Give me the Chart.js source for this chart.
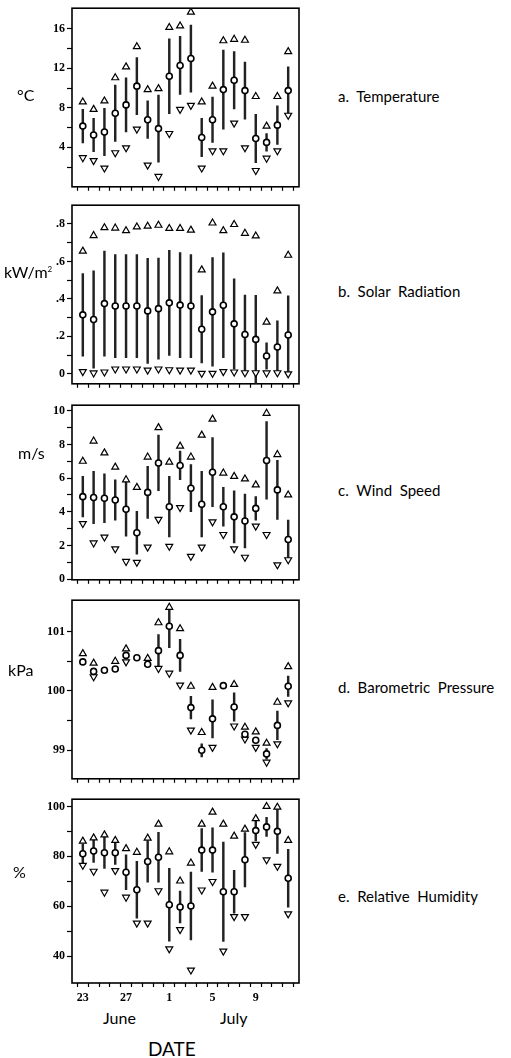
<!DOCTYPE html>
<html>
<head>
<meta charset="utf-8">
<script src="https://cdn.jsdelivr.net/npm/chart.js@4.4.1/dist/chart.umd.min.js"></script>
<style>
  body { margin: 0; background: #fff; width: 511px; height: 1058px; position: relative; overflow: hidden; }
  canvas { position: absolute; left: 0; }
  .lbl { position: absolute; font-family: 'Lato', 'Open Sans', sans-serif; color: #000; white-space: nowrap; line-height: 1; }
  .unit { font-size: 16px; }
  .name { font-size: 15px; left: 338px; }
</style>
</head>
<body>
<canvas id="tempChart" width="320" height="197"></canvas>
<canvas id="solarChart" width="320" height="197"></canvas>
<canvas id="windChart" width="320" height="193"></canvas>
<canvas id="pressChart" width="320" height="197"></canvas>
<canvas id="rhChart" width="320" height="215"></canvas>

<div class="lbl unit" style="left:17px; top:87px;">°C</div>
<div class="lbl unit" style="left:4px; top:264px;">kW/m<sup style="font-size:8px">2</sup></div>
<div class="lbl unit" style="left:18px; top:445px;">m/s</div>
<div class="lbl unit" style="left:8px; top:662px;">kPa</div>
<div class="lbl unit" style="left:13px; top:864px;">%</div>

<div class="lbl name" style="top:89px;">a.&nbsp; Temperature</div>
<div class="lbl name" style="top:284px;">b.&nbsp; Solar&nbsp; Radiation</div>
<div class="lbl name" style="top:483px;">c.&nbsp; Wind&nbsp; Speed</div>
<div class="lbl name" style="top:680px;">d.&nbsp; Barometric&nbsp; Pressure</div>
<div class="lbl name" style="top:889px;">e.&nbsp; Relative&nbsp; Humidity</div>

<div class="lbl" style="left:103px; top:1010px; font-size:16px;">June</div>
<div class="lbl" style="left:220px; top:1010px; font-size:16px;">July</div>
<div class="lbl" style="left:148px; top:1039px; font-size:19px;">DATE</div>

<script>
// days: June 23 .. July 12
const dayLabels = ['23', '', '', '', '27', '', '', '', '1', '', '', '', '5', '', '', '', '9', '', '', ''];

// a. Temperature (°C)
const tempMean = [6.15, 5.25, 5.55, 7.45, 8.3, 10.2, 6.8, 5.9, 11.2, 12.3, 13.0, 5.0, 6.8, 9.85, 10.8, 9.75, 4.9, 4.5, 6.25, 9.75];
const tempSd   = [1.7, 1.7, 2.4, 2.85, 2.75, 2.9, 1.9, 3.4, 3.8, 2.95, 3.4, 1.95, 2.3, 4.0, 2.9, 2.9, 2.45, 0.9, 1.95, 2.4];
const tempMax  = [8.6, 7.85, 8.7, 11.05, 12.15, 14.2, 9.85, 9.95, 16.15, 16.3, 17.7, 8.6, 10.2, 14.8, 14.95, 14.85, 9.15, 6.15, 9.15, 13.7];
const tempMin  = [2.95, 2.65, 1.9, 3.45, 3.95, 5.85, 2.2, 1.05, 5.4, 7.85, 8.25, 1.9, 3.65, 3.65, 6.45, 3.95, 1.65, 2.9, 3.65, 7.25];
const tempTicks = [2, 4, 6, 8, 10, 12, 14, 16];
const tempTickLabels = { 4: '4', 8: '8', 12: '12', 16: '16' };

// b. Solar radiation (kW/m2)
const solarMean = [0.315, 0.29, 0.375, 0.362, 0.362, 0.362, 0.336, 0.348, 0.379, 0.367, 0.362, 0.238, 0.331, 0.366, 0.267, 0.21, 0.184, 0.095, 0.143, 0.207];
const solarSd   = [0.22, 0.26, 0.28, 0.275, 0.275, 0.275, 0.28, 0.27, 0.28, 0.28, 0.275, 0.18, 0.29, 0.28, 0.24, 0.21, 0.235, 0.07, 0.14, 0.21];
const solarMax  = [0.655, 0.738, 0.78, 0.778, 0.764, 0.784, 0.788, 0.793, 0.776, 0.776, 0.767, 0.555, 0.805, 0.764, 0.797, 0.75, 0.736, 0.276, 0.443, 0.633];
const solarMin  = [0.012, 0.005, 0.01, 0.026, 0.026, 0.026, 0.02, 0.026, 0.022, 0.02, 0.02, 0.003, 0.003, 0.012, 0.01, 0.006, 0.006, 0.005, 0.006, 0.0];
const solarTicks = [0, 0.1, 0.2, 0.3, 0.4, 0.5, 0.6, 0.7, 0.8];
const solarTickLabels = { 0: '0', 0.2: '.2', 0.4: '.4', 0.6: '.6', 0.8: '.8' };

// c. Wind speed (m/s)
const windMean = [4.9, 4.85, 4.8, 4.7, 4.15, 2.75, 5.15, 6.9, 4.3, 6.75, 5.4, 4.45, 6.35, 4.3, 3.7, 3.45, 4.2, 7.05, 5.3, 2.35];
const windSd   = [1.2, 1.55, 1.45, 1.2, 1.6, 1.27, 1.55, 1.65, 1.8, 0.85, 1.4, 1.95, 2.05, 1.15, 1.55, 1.6, 0.7, 2.3, 1.75, 1.15];
const windMax  = [7.0, 8.2, 7.5, 6.65, 5.9, 5.45, 7.25, 9.0, 6.95, 7.9, 7.25, 8.55, 9.5, 6.3, 6.1, 5.95, 5.6, 9.85, 7.4, 5.0];
const windMin  = [3.3, 2.15, 2.5, 1.8, 1.05, 1.0, 1.9, 3.55, 1.95, 4.25, 1.35, 1.9, 3.4, 2.65, 1.8, 1.3, 3.15, 2.65, 0.85, 1.15];
const windTicks = [0, 1, 2, 3, 4, 5, 6, 7, 8, 9, 10];
const windTickLabels = { 0: '0', 2: '2', 4: '4', 6: '6', 8: '8', 10: '10' };

// d. Barometric pressure (kPa)
const pressMean = [100.49, 100.33, 100.35, 100.37, 100.6, 100.56, 100.45, 100.68, 101.09, 100.6, 99.72, 99.0, 99.53, 100.09, 99.73, 99.27, 99.17, 98.94, 99.42, 100.08];
const pressSd   = [0, 0.03, 0, 0.04, 0.03, 0, 0.02, 0.27, 0.36, 0.27, 0.19, 0.11, 0.32, 0, 0.24, 0.03, 0.04, 0.09, 0.24, 0.17];
const pressMax  = [100.63, 100.47, null, 100.5, 100.71, null, 100.55, 101.15, 101.41, 101.05, 100.08, 99.3, 100.06, null, 100.11, 99.39, 99.31, 99.12, 99.81, 100.41];
const pressMin  = [null, 100.24, null, null, 100.49, null, null, 100.38, 100.3, 100.1, 99.34, null, 99.05, null, 99.41, 99.19, 99.05, 98.8, 99.11, 99.8];
const pressTicks = [99, 99.5, 100, 100.5, 101];
const pressTickLabels = { 99: '99', 100: '100', 101: '101' };

// e. Relative humidity (%)
const rhMean = [81.0, 82.1, 81.4, 81.4, 73.6, 66.6, 77.9, 79.6, 60.6, 59.7, 60.1, 82.5, 82.5, 65.8, 65.8, 78.6, 90.3, 91.8, 90.0, 71.2];
const rhSd   = [3.9, 4.5, 6.3, 4.7, 7.0, 11.4, 8.3, 10.0, 14.6, 6.4, 13.6, 8.6, 8.9, 19.9, 8.6, 10.9, 4.1, 3.8, 8.8, 11.6];
const rhMax  = [86.1, 87.4, 88.6, 86.4, 83.1, 81.6, 87.3, 92.9, 81.8, 70.1, 77.3, 92.9, 97.7, 92.9, 88.1, 90.9, 95.1, 100.0, 99.7, 86.4];
const rhMin  = [76.4, 74.0, 65.6, 74.3, 63.6, 53.2, 53.2, 66.2, 42.9, 50.6, 34.4, 66.5, 69.9, 42.0, 55.8, 55.8, 84.8, 78.6, 76.0, 56.9];
const rhTicks = [40, 50, 60, 70, 80, 90, 100];
const rhTickLabels = { 40: '40', 60: '60', 80: '80', 100: '100' };

const tickFont = { family: "'Liberation Serif', serif", size: 12, weight: 'bold' };

// box round the plot area
const framePlugin = {
    id: 'frame',
    beforeDatasetsDraw(chart) {
        const { ctx, chartArea: a } = chart;
        ctx.save();
        ctx.strokeStyle = '#000';
        ctx.lineWidth = 1.6;
        ctx.strokeRect(a.left, a.top, a.right - a.left, a.bottom - a.top);
        ctx.restore();
    }
};

function makePanel(canvasId, top, mean, sd, max, min, yMin, yMax, yTicks, yLabels, showDates) {
    const canvas = document.getElementById(canvasId);
    canvas.style.top = (top - 6) + 'px';
    const xHeight = showDates ? 22 : 6;

    const bars = mean.map((m, i) => ({ x: i, y: [m - sd[i], m + sd[i]] }));
    const pts = arr => arr.map((v, i) => ({ x: i, y: v }));

    return new Chart(canvas.getContext('2d'), {
        type: 'scatter',
        data: {
            datasets: [
                {
                    type: 'bar',
                    data: bars,
                    backgroundColor: '#222',
                    borderWidth: 0,
                    barThickness: 1.8,
                    order: 3
                },
                {
                    data: pts(max),
                    pointStyle: 'triangle',
                    pointRadius: 4,
                    pointBackgroundColor: '#fff',
                    pointBorderColor: '#000',
                    pointBorderWidth: 1.2,
                    order: 2
                },
                {
                    data: pts(min),
                    pointStyle: 'triangle',
                    pointRotation: 180,
                    pointRadius: 4,
                    pointBackgroundColor: '#fff',
                    pointBorderColor: '#000',
                    pointBorderWidth: 1.2,
                    order: 2
                },
                {
                    data: pts(mean),
                    pointStyle: 'circle',
                    pointRadius: 3,
                    pointBackgroundColor: '#fff',
                    pointBorderColor: '#000',
                    pointBorderWidth: 1.6,
                    order: 1
                }
            ]
        },
        options: {
            responsive: false,
            animation: false,
            events: [],
            layout: { padding: { left: 0, right: 21, top: 6, bottom: 0 } },
            plugins: { legend: { display: false }, tooltip: { enabled: false } },
            scales: {
                x: {
                    type: 'linear',
                    min: -1,
                    max: 20,
                    offset: false,
                    afterBuildTicks: s => { s.ticks = dayLabels.map((d, i) => ({ value: i })); },
                    afterFit: s => { s.height = xHeight; },
                    ticks: {
                        display: showDates,
                        autoSkip: false,
                        maxRotation: 0,
                        padding: 4,
                        color: '#000',
                        font: tickFont,
                        callback: v => dayLabels[v]
                    },
                    grid: { drawOnChartArea: false, drawTicks: true, tickLength: 4, tickWidth: 1.2, color: '#000' },
                    border: { display: false }
                },
                y: {
                    min: yMin,
                    max: yMax,
                    afterBuildTicks: s => { s.ticks = yTicks.map(v => ({ value: v })); },
                    afterFit: s => { s.width = 72; },
                    ticks: {
                        padding: 2,
                        color: '#000',
                        font: tickFont,
                        callback: v => {
                            const key = Math.round(v * 10) / 10;
                            return yLabels[key] !== undefined ? yLabels[key] : '';
                        }
                    },
                    grid: { drawOnChartArea: false, drawTicks: true, tickLength: 5, tickWidth: 1.2, color: '#000' },
                    border: { display: false }
                }
            }
        },
        plugins: [framePlugin]
    });
}

makePanel('tempChart', 5, tempMean, tempSd, tempMax, tempMin, 0, 18.1, tempTicks, tempTickLabels, false);
makePanel('solarChart', 202, solarMean, solarSd, solarMax, solarMin, -0.053, 0.9, solarTicks, solarTickLabels, false);
makePanel('windChart', 402, windMean, windSd, windMax, windMin, -0.04, 10.33, windTicks, windTickLabels, false);
makePanel('pressChart', 597, pressMean, pressSd, pressMax, pressMin, 98.52, 101.53, pressTicks, pressTickLabels, false);
makePanel('rhChart', 796, rhMean, rhSd, rhMax, rhMin, 29.2, 102.9, rhTicks, rhTickLabels, true);
</script>
</body>
</html>
